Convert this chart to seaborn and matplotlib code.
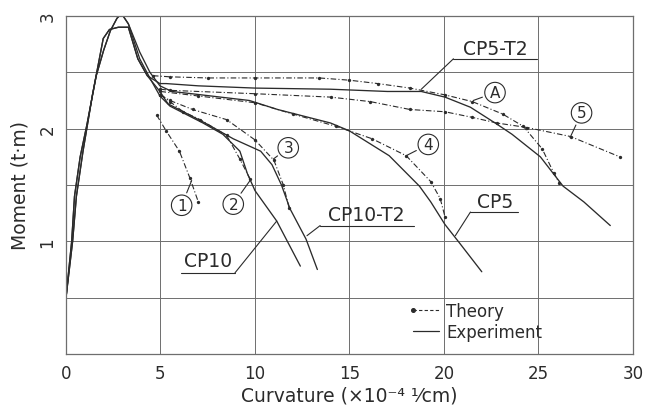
"""
Moment-curvature curves: theory vs experiment (CP5 / CP10 series)
"""

import pandas as pd
import numpy as np
import matplotlib
matplotlib.use("Agg")
import matplotlib.pyplot as plt
from matplotlib.lines import Line2D
from matplotlib.legend_handler import HandlerLine2D
import seaborn as sns

# ---------------------------------------------------------------------------
# Data (curvature x10^-4 1/cm, moment t.m)
# ---------------------------------------------------------------------------

# loading branch with the 3.0 peak (CP10, CP5)
rise_a_x = [0.0, 0.3, 0.45, 0.75, 1.1, 1.6, 2.0, 2.35, 2.7, 2.94]
rise_a_m = [0.5, 1.0, 1.4, 1.75, 2.03, 2.47, 2.7, 2.87, 2.98, 3.02]

# loading branch with the flat 2.9 top (CP10-T2, CP5-T2)
rise_b_x = [0.0, 0.35, 0.55, 0.9, 1.4, 1.97, 2.3, 2.77, 3.3]
rise_b_m = [0.5, 1.0, 1.4, 1.8, 2.3, 2.8, 2.88, 2.9, 2.9]

cp10_x = [3.3, 3.9, 4.5, 4.97, 5.5, 7.25, 8.3, 9.2, 9.6, 10.0, 11.15, 12.4]
cp10_m = [2.93, 2.62, 2.43, 2.29, 2.2, 2.05, 1.95, 1.8, 1.6, 1.45, 1.18, 0.78]

cp5_x = [3.3, 3.9, 4.44, 4.97, 5.6, 6.65, 9.7, 11.2, 14.0, 15.0, 17.1, 18.7,
         19.3, 20.05, 20.8, 22.0]
cp5_m = [2.93, 2.68, 2.5, 2.38, 2.33, 2.31, 2.25, 2.17, 2.05, 1.98, 1.76, 1.49,
         1.35, 1.15, 0.99, 0.73]

cp10t2_x = [3.8, 4.3, 4.97, 5.4, 7.25, 8.85, 10.3, 10.9, 11.4, 11.85, 12.7, 13.3]
cp10t2_m = [2.62, 2.47, 2.33, 2.22, 2.06, 1.91, 1.8, 1.68, 1.5, 1.29, 1.02, 0.75]

cp5t2_x = [3.8, 4.3, 4.97, 5.3, 7.0, 10.0, 14.0, 17.0, 18.8, 20.05, 21.4, 22.8,
           23.6, 25.1, 26.3, 27.4, 28.8]
cp5t2_m = [2.62, 2.47, 2.4, 2.4, 2.38, 2.36, 2.35, 2.33, 2.33, 2.28, 2.19, 2.04,
           1.95, 1.75, 1.49, 1.35, 1.14]

# theory
th1_x = [4.8, 5.3, 6.0, 6.56, 7.0]
th1_m = [2.12, 1.98, 1.8, 1.56, 1.35]
th2_x = [5.0, 5.5, 6.2, 7.1, 8.5, 9.2, 9.75]
th2_m = [2.3, 2.24, 2.15, 2.08, 1.94, 1.73, 1.55]
th3_x = [5.0, 5.5, 6.7, 8.5, 10.0, 11.0, 11.5, 11.8]
th3_m = [2.3, 2.25, 2.17, 2.08, 1.9, 1.72, 1.5, 1.3]
th4_x = [5.0, 7.0, 10.0, 12.0, 14.3, 16.2, 18.0, 19.3, 19.8, 20.05]
th4_m = [2.33, 2.29, 2.23, 2.13, 2.02, 1.91, 1.76, 1.53, 1.38, 1.22]
th5_x = [5.0, 5.5, 10.0, 14.0, 16.1, 18.2, 20.05, 21.5, 22.8, 24.4, 26.7, 29.3]
th5_m = [2.35, 2.34, 2.31, 2.28, 2.24, 2.17, 2.15, 2.1, 2.05, 2.01, 1.93, 1.75]
tha_x = [4.6, 5.5, 7.5, 10.0, 13.4, 15.0, 16.5, 18.2, 20.05, 21.5, 23.1, 24.2,
         25.2, 25.8, 26.1]
tha_m = [2.47, 2.46, 2.45, 2.45, 2.45, 2.43, 2.4, 2.36, 2.3, 2.24, 2.13, 2.02,
         1.82, 1.61, 1.52]

x_ticks = [0, 5, 10, 15, 20, 25, 30]
y_ticks = [1, 2, 3]

# ---------------------------------------------------------------------------

INK = "#2b2b2b"
GRID = "#6e6e6e"

experiments = {
    "CP10": (rise_a_x + cp10_x, rise_a_m + cp10_m),
    "CP5": (rise_a_x + cp5_x, rise_a_m + cp5_m),
    "CP10-T2": (rise_b_x + cp10t2_x, rise_b_m + cp10t2_m),
    "CP5-T2": (rise_b_x + cp5t2_x, rise_b_m + cp5t2_m),
}
theories = {
    "1": (th1_x, th1_m), "2": (th2_x, th2_m), "3": (th3_x, th3_m),
    "4": (th4_x, th4_m), "5": (th5_x, th5_m), "A": (tha_x, tha_m),
}

rows = []
for name, (xs, ms) in experiments.items():
    rows += [{"curve": name, "kind": "Experiment", "x": a, "m": b} for a, b in zip(xs, ms)]
for name, (xs, ms) in theories.items():
    rows += [{"curve": name, "kind": "Theory", "x": a, "m": b} for a, b in zip(xs, ms)]
df = pd.DataFrame(rows)


class FirstDotHandler(HandlerLine2D):
    # legend entry drawn as "•- - -": dot only at the left end
    def create_artists(self, *args, **kwargs):
        artists = super().create_artists(*args, **kwargs)
        for a in artists:
            if a.get_marker() not in (None, "None", ""):
                a.set_markevery([0])
        return artists


sns.set_style("white")
plt.rcParams["font.family"] = ["DejaVu Sans"]
plt.rcParams["text.color"] = INK

fig = plt.figure(figsize=(6.49, 4.14), dpi=100)
ax = fig.add_axes([0.1017, 0.1425, 0.8736, 0.8165])

DASHDOT = (0, (5, 2, 1, 2))
for name, sub in df.groupby("curve", sort=False):
    if sub["kind"].iloc[0] == "Experiment":
        sns.lineplot(data=sub, x="x", y="m", sort=False, estimator=None, ax=ax,
                     color=INK, lw=0.95)
    else:
        sns.lineplot(data=sub, x="x", y="m", sort=False, estimator=None, ax=ax,
                     color=INK, lw=0.8, linestyle=DASHDOT, marker="o",
                     markersize=2.4, markeredgewidth=0)

ax.set_xlim(0, 30)
ax.set_ylim(0, 3)
ax.set_xticks(x_ticks)
ax.set_yticks(y_ticks)
ax.set_xticks(np.arange(0, 31, 5), minor=True)
ax.set_yticks(np.arange(0, 3.01, 0.5), minor=True)
ax.grid(which="minor", color=GRID, lw=0.7)
ax.grid(which="major", color=GRID, lw=0.7)
ax.tick_params(which="both", length=0, labelsize=12, colors=INK, pad=7)
for lab in ax.get_yticklabels():
    lab.set_rotation(90)
    lab.set_va("center")
for s in ax.spines.values():
    s.set_color(GRID)
    s.set_linewidth(0.9)

ax.set_xlabel("Curvature (×10⁻⁴ ¹⁄cm)", fontsize=13.5, color=INK, labelpad=3)
ax.set_ylabel("Moment (t·m)", fontsize=13.5, color=INK, labelpad=6)

# circled curve numbers
circled = [("1", (6.12, 1.32), (6.65, 1.54)),
           ("2", (8.85, 1.33), (9.74, 1.54)),
           ("3", (11.76, 1.83), (10.97, 1.73)),
           ("4", (19.17, 1.86), (18.0, 1.76)),
           ("5", (27.28, 2.14), (26.67, 1.92)),
           ("A", (22.7, 2.32), (21.55, 2.25))]
for txt, pos, tip in circled:
    ax.annotate(txt, xy=tip, xytext=pos, ha="center", va="center", fontsize=11,
                color=INK,
                bbox=dict(boxstyle="circle,pad=0.18", fc="white", ec=INK, lw=0.8),
                arrowprops=dict(arrowstyle="-", color=INK, lw=0.8, shrinkB=0))

# specimen call-outs: text, underline span, leader tip
callouts = [("CP5-T2", (22.7, 2.71), (20.5, 24.9, 2.62), (20.5, (18.8, 2.35))),
            ("CP5", (22.7, 1.35), (21.4, 23.9, 1.26), (21.4, (20.6, 1.05))),
            ("CP10-T2", (15.9, 1.24), (13.45, 18.4, 1.14), (13.45, (12.75, 1.05))),
            ("CP10", (7.5, 0.83), (6.1, 8.94, 0.72), (8.94, (11.15, 1.18)))]
for txt, pos, (u0, u1, uy), (lx, tip) in callouts:
    ax.text(pos[0], pos[1], txt, ha="center", va="center", fontsize=13.5,
            color=INK)
    ax.plot([u0, u1], [uy, uy], color=INK, lw=0.8)
    ax.plot([lx, tip[0]], [uy, tip[1]], color=INK, lw=0.8)

theory_handle = Line2D([], [], color=INK, lw=0.8, linestyle=(0, (3, 2)),
                       marker="o", markersize=2.6)
exp_handle = Line2D([], [], color=INK, lw=0.9)
ax.legend([theory_handle, exp_handle], ["Theory", "Experiment"],
          loc="lower left", bbox_to_anchor=(0.585, 0.01), frameon=False,
          fontsize=12, handlelength=2.2, handletextpad=0.1, labelspacing=0.15,
          borderaxespad=0.2, numpoints=2,
          handler_map={theory_handle: FirstDotHandler()})

fig.savefig("out.png", dpi=100, facecolor="white")
